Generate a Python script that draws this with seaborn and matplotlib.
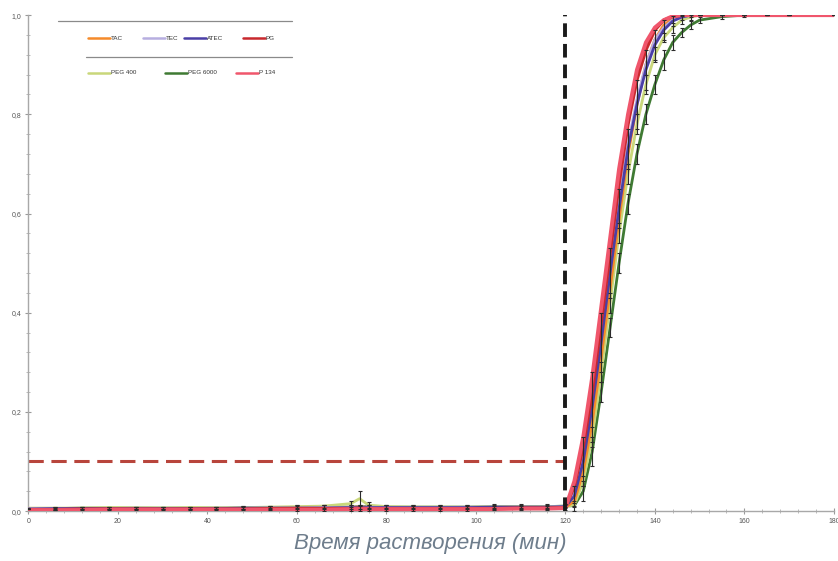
import matplotlib
matplotlib.use("Agg")
import matplotlib.pyplot as plt
from matplotlib.lines import Line2D
from matplotlib.ticker import MultipleLocator, FuncFormatter
import numpy as np
import pandas as pd
import seaborn as sns

# Sampling times, min
time = [0, 6, 12, 18, 24, 30, 36, 42, 48, 54, 60, 66, 72, 74, 76, 80, 86, 92, 98,
        104, 110, 116, 120, 122, 124, 126, 128, 130, 132, 134, 136, 138, 140, 142,
        144, 146, 148, 150, 155, 160, 165, 170, 180]

# Released fraction for each plasticizer
tac = [0.004, 0.004, 0.005, 0.004, 0.005, 0.005, 0.004, 0.005, 0.005, 0.005, 0.006, 0.006,
       0.007, 0.008, 0.007, 0.006, 0.006, 0.006, 0.007, 0.007, 0.007, 0.007, 0.008, 0.02,
       0.08, 0.18, 0.31, 0.45, 0.59, 0.72, 0.82, 0.90, 0.95, 0.98, 0.992, 1.0, 1.0, 1.0,
       1.0, 1.0, 1.0, 1.0, 1.0]
tec = [0.005, 0.005, 0.005, 0.005, 0.006, 0.005, 0.005, 0.006, 0.006, 0.006, 0.006, 0.007,
       0.007, 0.008, 0.008, 0.007, 0.007, 0.007, 0.008, 0.008, 0.008, 0.008, 0.009, 0.04,
       0.12, 0.23, 0.37, 0.51, 0.63, 0.74, 0.83, 0.90, 0.95, 0.975, 0.99, 0.997, 1.0, 1.0,
       1.0, 1.0, 1.0, 1.0, 1.0]
atec = [0.004, 0.005, 0.005, 0.005, 0.005, 0.005, 0.005, 0.005, 0.006, 0.006, 0.006, 0.006,
        0.007, 0.007, 0.007, 0.007, 0.007, 0.007, 0.007, 0.008, 0.008, 0.008, 0.009, 0.03,
        0.10, 0.21, 0.34, 0.48, 0.61, 0.73, 0.82, 0.89, 0.94, 0.97, 0.988, 0.996, 1.0, 1.0,
        1.0, 1.0, 1.0, 1.0, 1.0]
pg = [0.003, 0.003, 0.004, 0.004, 0.004, 0.004, 0.004, 0.004, 0.004, 0.005, 0.005, 0.005,
      0.005, 0.006, 0.005, 0.005, 0.005, 0.005, 0.005, 0.005, 0.006, 0.006, 0.007, 0.05,
      0.13, 0.24, 0.38, 0.52, 0.66, 0.78, 0.87, 0.93, 0.97, 0.99, 0.997, 1.0, 1.0, 1.0,
      1.0, 1.0, 1.0, 1.0, 1.0]
peg400 = [0.006, 0.006, 0.006, 0.007, 0.007, 0.006, 0.007, 0.007, 0.007, 0.008, 0.009, 0.01,
          0.015, 0.025, 0.012, 0.009, 0.008, 0.008, 0.008, 0.009, 0.009, 0.009, 0.01, 0.012,
          0.06, 0.15, 0.28, 0.42, 0.56, 0.68, 0.78, 0.86, 0.92, 0.955, 0.975, 0.99, 0.996, 1.0,
          1.0, 1.0, 1.0, 1.0, 1.0]
peg6000 = [0.005, 0.005, 0.006, 0.006, 0.006, 0.006, 0.006, 0.006, 0.007, 0.007, 0.007, 0.008,
           0.008, 0.009, 0.009, 0.008, 0.008, 0.008, 0.008, 0.009, 0.009, 0.009, 0.01, 0.011,
           0.04, 0.12, 0.24, 0.37, 0.50, 0.62, 0.72, 0.80, 0.86, 0.91, 0.945, 0.965, 0.98, 0.99,
           0.997, 1.0, 1.0, 1.0, 1.0]
p134 = [0.002, 0.002, 0.002, 0.003, 0.003, 0.003, 0.003, 0.003, 0.003, 0.003, 0.003, 0.003,
        0.004, 0.004, 0.004, 0.004, 0.004, 0.004, 0.004, 0.004, 0.005, 0.005, 0.006, 0.06,
        0.15, 0.27, 0.41, 0.55, 0.69, 0.80, 0.89, 0.945, 0.975, 0.99, 0.998, 1.0, 1.0, 1.0,
        1.0, 1.0, 1.0, 1.0, 1.0]

# Standard deviations shown as error bars
atec_sd = [0.0, 0.003, 0.003, 0.003, 0.003, 0.003, 0.003, 0.003, 0.004, 0.004, 0.006, 0.006,
           0.006, 0.006, 0.006, 0.006, 0.006, 0.006, 0.006, 0.006, 0.006, 0.006, 0.006, 0.02,
           0.05, 0.07, 0.06, 0.05, 0.04, 0.04, 0.05, 0.04, 0.03, 0.02, 0.01, 0.005, 0.003, 0.0,
           0.0, 0.0, 0.0, 0.0, 0.0]
peg6000_sd = [0.0, 0.002, 0.002, 0.002, 0.002, 0.002, 0.002, 0.002, 0.003, 0.003, 0.003, 0.004,
              0.004, 0.004, 0.004, 0.004, 0.004, 0.004, 0.004, 0.004, 0.004, 0.004, 0.004, 0.01,
              0.02, 0.03, 0.02, 0.02, 0.02, 0.02, 0.02, 0.02, 0.02, 0.02, 0.015, 0.01, 0.008, 0.006,
              0.004, 0.003, 0.0, 0.0, 0.0]
peg400_sd = [0.0, 0.002, 0.002, 0.002, 0.002, 0.002, 0.002, 0.002, 0.002, 0.002, 0.003, 0.003,
             0.006, 0.015, 0.006, 0.003, 0.002, 0.002, 0.002, 0.002, 0.002, 0.002, 0.002, 0.004,
             0.01, 0.02, 0.02, 0.02, 0.02, 0.02, 0.02, 0.02, 0.015, 0.01, 0.01, 0.008, 0.005, 0.0,
             0.0, 0.0, 0.0, 0.0, 0.0]

labels_row1 = ["TAC", "TEC", "ATEC", "PG"]
labels_row2 = ["PEG 400", "PEG 6000", "P 134"]
colors = {"TAC": "#f58a2a", "TEC": "#b7aee0", "ATEC": "#4a3fa6", "PG": "#c8282d",
          "PEG 400": "#c9d77a", "PEG 6000": "#3f7a33", "P 134": "#f0566c"}
widths = {"TAC": 2.2, "TEC": 2.0, "ATEC": 2.0, "PG": 2.4,
          "PEG 400": 2.0, "PEG 6000": 2.0, "P 134": 2.8}
series = {"PEG 6000": peg6000, "PEG 400": peg400, "TAC": tac, "TEC": tec,
          "ATEC": atec, "PG": pg, "P 134": p134}

lag_time = 120
threshold = 0.1
x_label = "Время растворения (мин)"

df = pd.concat([pd.DataFrame({"time": time, "released": v, "formulation": k})
                for k, v in series.items()], ignore_index=True)

sns.set_theme(style="white")
plt.rcParams["font.family"] = ["Liberation Sans", "DejaVu Sans"]

fig = plt.figure(figsize=(8.38, 5.61), dpi=100)
ax = fig.add_axes([0.034, 0.089, 0.961, 0.884])

# threshold reference line
ax.hlines(threshold, 0, lag_time, colors="#b8453c", linestyles=(0, (5, 2.5)), lw=2.2, zorder=1)

for name in series:
    sns.lineplot(data=df[df["formulation"] == name], x="time", y="released",
                 color=colors[name], lw=widths[name], ax=ax, legend=False, zorder=3)

for vals, sd in [(atec, atec_sd), (peg6000, peg6000_sd), (peg400, peg400_sd)]:
    ax.errorbar(time, vals, yerr=sd, fmt="none", ecolor="#2b2b2b", elinewidth=0.8,
                capsize=1.5, capthick=0.8, zorder=4)

# lag-time marker
ax.vlines(lag_time, 0, 1.01, colors="#1a1a1a", linestyles=(0, (3.5, 1.8)), lw=2.8, zorder=5)

ax.set_xlim(0, 180)
ax.set_ylim(0, 1.0)
ax.xaxis.set_major_locator(MultipleLocator(20))
ax.xaxis.set_minor_locator(MultipleLocator(4))
ax.yaxis.set_major_locator(MultipleLocator(0.2))
ax.yaxis.set_minor_locator(MultipleLocator(0.04))
ax.yaxis.set_major_formatter(FuncFormatter(lambda v, p: f"{v:.1f}".replace(".", ",")))
ax.tick_params(axis="both", which="major", direction="inout", length=4, width=0.8,
               color="#9a9a9a", labelsize=5, labelcolor="#555555", bottom=True, left=True, pad=3)
ax.tick_params(axis="both", which="minor", direction="inout", length=2.5, width=0.6,
               color="#b0b0b0", bottom=True, left=True)
for s in ["top", "right"]:
    ax.spines[s].set_visible(False)
for s in ["left", "bottom"]:
    ax.spines[s].set_color("#a8a8a8")
    ax.spines[s].set_linewidth(1.0)
ax.set_xlabel("")
ax.set_ylabel("")

fig.text(0.514, 0.032, x_label, ha="center", va="center", fontsize=16,
         style="italic", color="#6e7d8c")

# legend block with separator rules
W, H = 838, 561
def fx(px):
    return px / W
def fy(py):
    return 1 - py / H

fig.add_artist(Line2D([fx(58), fx(292)], [fy(21), fy(21)], color="#8a8a8a", lw=0.9))
fig.add_artist(Line2D([fx(86), fx(292)], [fy(57), fy(57)], color="#8a8a8a", lw=0.9))
row1_x = [88, 143, 184, 243]
row2_x = [88, 165, 236]
for name, x0 in zip(labels_row1, row1_x):
    fig.add_artist(Line2D([fx(x0), fx(x0 + 22)], [fy(38), fy(38)], color=colors[name], lw=1.8))
    fig.text(fx(x0 + 23), fy(38), name, fontsize=4.5, va="center", ha="left", color="#333333")
for name, x0 in zip(labels_row2, row2_x):
    fig.add_artist(Line2D([fx(x0), fx(x0 + 22)], [fy(73), fy(73)], color=colors[name], lw=1.8))
    fig.text(fx(x0 + 23), fy(73), name, fontsize=4.5, va="center", ha="left", color="#333333")

fig.savefig("out.png", dpi=100, facecolor="white")
